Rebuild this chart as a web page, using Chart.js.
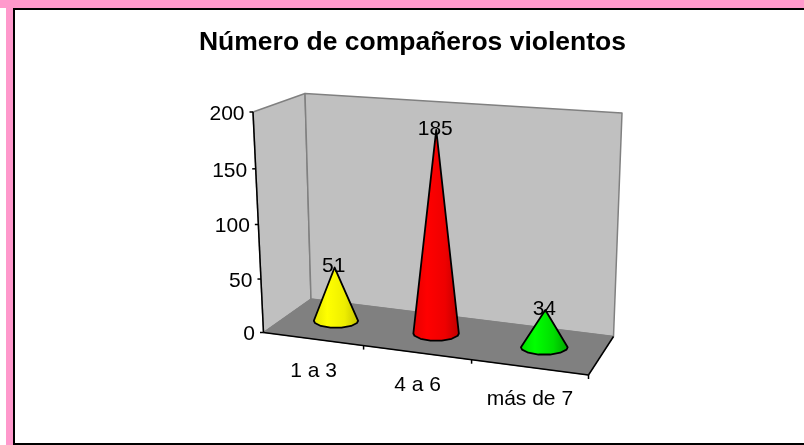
<!DOCTYPE html>
<html>
<head>
<meta charset="utf-8">
<script src="https://cdn.jsdelivr.net/npm/chart.js@4/dist/chart.umd.min.js"></script>
<style>
    html, body { margin: 0; padding: 0; width: 804px; height: 445px; overflow: hidden; background: #fff; }
    #bandTop { position: absolute; left: 0; top: 0; width: 804px; height: 8px; background: #ff99cc; }
    #bandLeft { position: absolute; left: 6px; top: 0; width: 7px; height: 445px; background: #ff99cc; }
    #frame { position: absolute; left: 13px; top: 8px; width: 791px; height: 437px; box-sizing: border-box;
             border: 2px solid #000; border-right: none; background: #fff; }
    canvas { position: absolute; left: 0; top: 0; }
</style>
</head>
<body>
<div id="bandTop"></div>
<div id="bandLeft"></div>
<div id="frame"></div>
<canvas id="myChart" width="804" height="445"></canvas>
<script>
// Datos
const categories = ['1 a 3', '4 a 6', 'más de 7'];
const values = [51, 185, 34];
const yTicks = [0, 50, 100, 150, 200];
const coneColors = [
    ['#e4e400', '#ffff00', '#eeee00', '#c4c400'],
    ['#e60000', '#ff0000', '#ee0000', '#c00000'],
    ['#00e000', '#00ff00', '#00dd00', '#00a800']
];

const FONT = '"Liberation Sans", Arial, sans-serif';

// Esquinas de la caja 3D donde se proyectan las escalas
const box = {
    flb: [263.5, 332.5], frb: [588.5, 375], blb: [311, 299], brb: [613.5, 336.5],
    flt: [253, 112], frt: [599, 137], blt: [305, 93.5], brt: [622, 113]
};
const coneDepth = 0.53;
// Base del cono: poligono achatado como en el original
const baseAngles = [0, 0.1, 0.26, 0.42, 0.58, 0.74, 0.9, 1];

function mix(a, b, t) {
    return [a[0] + (b[0] - a[0]) * t, a[1] + (b[1] - a[1]) * t];
}

// u, v en 0..1 sobre el area del grafico, d = profundidad
function project(u, v, d) {
    const tu = 0.89 * u / (1 - 0.11 * u);
    const tv = 0.96 * v / (1 - 0.04 * v);
    const bottom = mix(mix(box.flb, box.frb, tu), mix(box.blb, box.brb, tu), d);
    const top = mix(mix(box.flt, box.frt, tu), mix(box.blt, box.brt, tu), d);
    return mix(bottom, top, tv);
}

function poly(ctx, pts, fill, stroke, width) {
    ctx.beginPath();
    pts.forEach((p, i) => (i ? ctx.lineTo(p[0], p[1]) : ctx.moveTo(p[0], p[1])));
    ctx.closePath();
    if (fill) { ctx.fillStyle = fill; ctx.fill(); }
    if (stroke) { ctx.strokeStyle = stroke; ctx.lineWidth = width; ctx.stroke(); }
}

function line(ctx, a, b, color, width) {
    ctx.beginPath();
    ctx.moveTo(a[0], a[1]);
    ctx.lineTo(b[0], b[1]);
    ctx.strokeStyle = color;
    ctx.lineWidth = width;
    ctx.stroke();
}

function text(ctx, str, x, y, align) {
    ctx.font = '21px ' + FONT;
    ctx.fillStyle = '#000';
    ctx.textAlign = align;
    ctx.textBaseline = 'middle';
    ctx.fillText(str, x, y);
}

// Paredes, suelo y ejes
const sceneBack = {
    id: 'sceneBack',
    beforeDatasetsDraw(chart) {
        const ctx = chart.ctx;
        const yScale = chart.scales.y;
        const xScale = chart.scales.x;
        const area = chart.chartArea;
        ctx.save();
        ctx.lineJoin = 'round';
        poly(ctx, [box.flb, box.flt, box.blt, box.blb], '#c0c0c0', '#808080', 1.5);
        poly(ctx, [box.blb, box.blt, box.brt, box.brb], '#c0c0c0', '#808080', 1.5);
        poly(ctx, [box.flb, box.blb, box.brb, box.frb], '#808080', '#808080', 1);

        line(ctx, box.flb, box.flt, '#000', 1.5);
        line(ctx, box.flb, box.frb, '#000', 1.5);
        line(ctx, box.frb, box.brb, '#000', 1.5);

        // Eje Y
        yScale.ticks.forEach((tick, i) => {
            const v = (area.bottom - yScale.getPixelForTick(i)) / area.height;
            const p = project(0, v, 0);
            line(ctx, [p[0] - 3.5, p[1]], [p[0], p[1]], '#000', 1.5);
            text(ctx, String(tick.value), p[0] - 8.5, p[1] + 2, 'right');
        });

        // Eje X
        categories.forEach((name, i) => {
            const edge = project((i + 1) / categories.length, 0, 0);
            line(ctx, edge, [edge[0], edge[1] + 4], '#000', 1.5);
            const u = (xScale.getPixelForTick(i) - area.left) / area.width;
            const p = project(u, 0, 0);
            text(ctx, name, p[0] + 1, p[1] + 32.5, 'center');
        });
        ctx.restore();
    }
};

// Conos a partir de las barras de Chart.js
const cones = {
    id: 'cones',
    afterDatasetsDraw(chart) {
        const ctx = chart.ctx;
        const area = chart.chartArea;
        const bars = chart.getDatasetMeta(0).data;
        ctx.save();
        ctx.lineJoin = 'round';
        bars.forEach((bar, i) => {
            const u = (bar.x - area.left) / area.width;
            const v = (area.bottom - bar.y) / area.height;
            const apex = project(u, v, coneDepth);
            const base = project(u, 0, coneDepth);
            const rx = bar.width / 2 * (0.96 + 0.08 * u);
            const ry = rx * 0.32;

            const pts = [apex];
            baseAngles.forEach(f => {
                const a = Math.PI * f;
                pts.push([base[0] - rx * Math.cos(a), base[1] + ry * Math.sin(a)]);
            });
            const grad = ctx.createLinearGradient(base[0] - rx, 0, base[0] + rx, 0);
            const c = coneColors[i];
            grad.addColorStop(0, c[0]);
            grad.addColorStop(0.3, c[1]);
            grad.addColorStop(0.7, c[2]);
            grad.addColorStop(1, c[3]);
            poly(ctx, pts, grad, '#000', 1.8);
        });
        bars.forEach((bar, i) => {
            const u = (bar.x - area.left) / area.width;
            const v = (area.bottom - bar.y) / area.height;
            const apex = project(u, v, coneDepth);
            text(ctx, String(values[i]), apex[0] - 1, apex[1] - 1, 'center');
        });
        ctx.restore();
    }
};

new Chart(document.getElementById('myChart').getContext('2d'), {
    type: 'bar',
    data: {
        labels: categories,
        datasets: [{
            data: values,
            backgroundColor: 'transparent',
            borderWidth: 0,
            barPercentage: 0.1743,
            categoryPercentage: 1
        }]
    },
    options: {
        responsive: false,
        animation: false,
        devicePixelRatio: 1,
        // El area solo da u, v normalizados; el ancho deja sitio al titulo
        layout: { padding: { left: 21, right: 0, bottom: 113, top: 0 } },
        scales: {
            x: { display: false },
            y: {
                display: false,
                min: 0,
                max: 200,
                afterBuildTicks(scale) { scale.ticks = yTicks.map(value => ({ value })); }
            }
        },
        plugins: {
            legend: { display: false },
            tooltip: { enabled: false },
            title: {
                display: true,
                text: 'Número de compañeros violentos',
                color: '#000',
                font: { family: FONT, size: 26.5, weight: 'bold' },
                padding: { top: 27, bottom: 19 }
            }
        }
    },
    plugins: [sceneBack, cones]
});
</script>
</body>
</html>
